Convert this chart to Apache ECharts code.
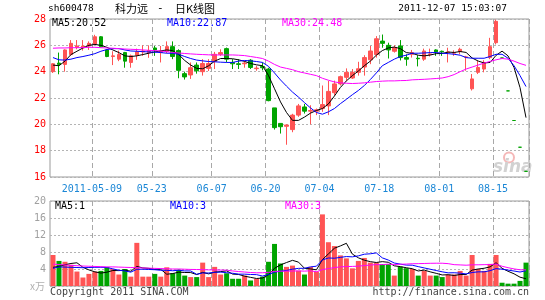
<!DOCTYPE html>
<html>
<head>
<meta charset="utf-8">
<script src="https://cdn.jsdelivr.net/npm/echarts@6/dist/echarts.min.js"></script>
<style>
html,body{margin:0;padding:0;background:#fff;}
#chart{width:545px;height:300px;}
</style>
</head>
<body>
<div id="chart"></div>
<script>
// ---------------- data ----------------
const dates = [
'2011-04-27','2011-04-28','2011-04-29','2011-05-03','2011-05-04','2011-05-05','2011-05-06','2011-05-09','2011-05-10','2011-05-11',
'2011-05-12','2011-05-13','2011-05-16','2011-05-17','2011-05-18','2011-05-19','2011-05-20','2011-05-23','2011-05-24','2011-05-25',
'2011-05-26','2011-05-27','2011-05-30','2011-05-31','2011-06-01','2011-06-02','2011-06-03','2011-06-07','2011-06-08','2011-06-09',
'2011-06-10','2011-06-13','2011-06-14','2011-06-15','2011-06-16','2011-06-17','2011-06-20','2011-06-21','2011-06-22','2011-06-23',
'2011-06-24','2011-06-27','2011-06-28','2011-06-29','2011-06-30','2011-07-04','2011-07-05','2011-07-06','2011-07-07','2011-07-08',
'2011-07-11','2011-07-12','2011-07-13','2011-07-14','2011-07-15','2011-07-18','2011-07-19','2011-07-20','2011-07-21','2011-07-22',
'2011-07-25','2011-07-26','2011-07-27','2011-07-28','2011-07-29','2011-08-01','2011-08-02','2011-08-03','2011-08-04','2011-08-05',
'2011-08-08','2011-08-09','2011-08-10','2011-08-11','2011-08-15','2011-08-16','2011-08-17','2011-08-18','2011-08-19','2011-08-22'];

const opens = [
24.0,24.65,24.55,25.3,25.85,25.8,25.95,26.1,26.65,25.65,
25.15,24.95,25.45,24.7,25.25,25.5,25.45,25.8,25.45,25.55,
25.9,25.6,23.85,23.75,24.5,24.0,24.25,24.77,25.32,25.75,
24.7,24.6,24.6,24.87,24.23,24.4,24.2,21.25,20.07,19.85,
19.6,20.7,21.32,21.0,21.0,21.2,21.4,22.4,23.07,23.57,
23.52,23.95,24.35,24.9,25.3,26.32,26.0,25.55,25.95,25.07,
25.32,25.02,24.95,25.3,25.65,25.55,25.45,25.4,25.52,25.1,
22.7,23.95,24.2,25.07,26.2,25.04,22.54,20.29,18.26,16.43];
const closes = [
24.6,24.55,25.65,26.15,25.95,25.95,26.15,26.65,25.9,25.15,
25.2,25.3,24.8,25.2,25.5,25.57,25.6,25.65,25.57,25.9,
25.15,24.1,23.6,24.3,24.07,24.62,24.62,25.32,25.45,24.95,
24.6,24.55,24.65,24.32,24.27,24.3,21.8,19.75,19.82,19.95,
20.7,21.4,21.0,21.05,21.1,21.5,22.5,23.07,23.62,23.95,
23.95,24.22,25.07,25.57,26.5,26.15,25.65,25.82,25.07,24.95,
25.45,24.98,25.57,25.35,25.5,25.5,25.5,25.45,25.7,25.12,
23.45,24.32,24.7,25.9,27.82,25.04,22.54,20.29,18.26,16.43];
const lows = [
23.9,23.8,24.0,25.2,25.7,25.6,25.65,26.05,25.85,25.1,
24.5,24.8,24.3,24.3,24.9,25.2,25.05,25.2,24.7,25.4,
24.95,23.5,23.4,23.45,23.85,23.7,24.05,24.2,25.2,24.7,
24.2,24.2,24.3,24.2,24.07,24.1,21.75,19.6,19.3,18.45,
19.4,20.57,20.82,20.0,20.7,20.95,20.7,22.2,22.95,23.3,
23.45,23.7,23.7,24.57,25.07,25.82,25.0,25.45,24.85,24.45,
25.07,24.4,24.82,25.15,25.2,25.2,24.7,25.2,25.32,24.07,
22.57,23.82,23.95,24.95,26.07,25.04,22.54,20.29,18.26,16.43];
const highs = [
24.65,25.45,25.7,26.4,26.4,26.4,26.3,26.8,26.7,25.7,
25.55,25.6,25.5,25.3,25.75,26.0,26.0,25.95,25.95,26.3,
26.3,25.7,24.0,24.7,24.7,24.95,24.95,25.5,25.7,25.83,
24.95,24.95,24.8,24.95,24.45,24.7,24.3,21.25,20.07,20.0,
20.8,21.55,21.55,21.45,21.2,22.95,23.3,23.32,23.7,24.25,
24.2,24.75,25.25,25.95,26.7,26.82,26.2,26.0,26.4,25.32,
25.65,25.25,25.75,25.75,25.7,25.6,25.82,25.62,25.82,25.2,
23.82,24.82,24.87,26.57,27.95,25.04,22.54,20.29,18.26,16.43];

const ma5 = [
24.5,24.45,24.8,25.3,25.55,25.8,26.0,26.07,26.0,25.85,
25.65,25.45,25.2,25.15,25.2,25.3,25.4,25.5,25.58,25.65,
25.6,25.3,24.85,24.5,24.25,24.22,24.45,24.8,25.0,25.0,
24.98,24.9,24.78,24.62,24.52,24.45,23.7,22.7,21.7,20.9,
20.3,20.3,20.55,20.85,21.05,21.2,21.55,22.15,22.8,23.3,
23.7,24.05,24.45,24.8,25.25,25.6,25.8,25.87,25.75,25.45,
25.39,25.25,25.2,25.26,25.37,25.38,25.49,25.46,25.53,25.46,
25.04,24.81,24.66,24.7,25.24,25.56,25.2,24.32,22.79,20.51];
const ma10 = [
25.07,24.9,24.88,24.95,25.07,25.15,25.25,25.37,25.55,25.68,
25.75,25.75,25.65,25.57,25.55,25.52,25.5,25.48,25.45,25.4,
25.4,25.32,25.15,25.0,24.88,24.82,24.77,24.75,24.72,24.7,
24.7,24.8,24.85,24.82,24.77,24.7,24.4,23.9,23.37,22.9,
22.45,22.07,21.65,21.25,20.9,20.77,20.95,21.2,21.57,21.9,
22.25,22.57,22.95,23.4,23.9,24.45,24.7,24.95,25.15,25.25,
25.4,25.4,25.42,25.45,25.45,25.4,25.37,25.32,25.25,25.07,
25.02,25.02,25.02,25.15,25.32,25.32,25.02,24.45,23.7,22.87];
const ma30 = [
25.78,25.8,25.8,25.82,25.82,25.83,25.85,25.85,25.82,25.8,
25.78,25.75,25.72,25.7,25.68,25.65,25.62,25.6,25.57,25.52,
25.45,25.42,25.38,25.35,25.32,25.3,25.28,25.27,25.27,25.27,
25.27,25.25,25.22,25.15,25.08,25.0,24.8,24.55,24.35,24.25,
24.15,24.0,23.9,23.8,23.7,23.5,23.35,23.22,23.15,23.12,
23.1,23.12,23.15,23.2,23.25,23.28,23.3,23.3,23.32,23.33,
23.38,23.4,23.42,23.45,23.48,23.52,23.62,23.78,24.0,24.2,
24.35,24.5,24.65,24.78,24.9,25.0,24.95,24.8,24.62,24.48];

const volumes = [
7.3,5.9,5.7,5.0,3.4,2.0,2.85,3.4,3.55,4.45,
4.0,2.7,4.0,2.2,10.15,2.2,2.2,2.85,2.2,4.4,
3.0,3.85,2.45,2.1,2.1,5.5,2.1,4.5,2.7,3.0,
1.7,1.7,2.45,1.3,1.7,2.2,5.7,9.9,5.3,4.5,
4.8,3.6,2.7,4.5,3.4,16.85,10.3,9.4,7.2,6.5,
4.15,5.9,6.6,5.5,5.5,5.15,5.15,2.45,4.55,4.2,
4.0,2.45,3.55,2.45,2.45,2.1,2.7,2.7,3.55,2.45,
7.3,4.0,3.55,5.2,7.3,0.77,0.55,0.55,1.2,5.5];
const vma5 = [
4.4,4.6,5.0,5.3,5.46,4.4,3.79,3.33,3.04,3.25,
3.65,3.62,3.74,3.47,4.61,4.25,4.15,3.92,3.92,2.77,
2.93,3.26,3.18,3.16,2.7,3.2,2.85,3.26,3.38,3.56,
2.8,2.72,2.31,2.03,1.77,1.87,2.67,4.16,4.96,5.52,
6.04,5.62,4.18,4.02,3.8,6.21,7.55,8.89,9.43,10.05,
7.51,6.63,6.07,5.73,5.53,5.73,5.58,4.75,4.56,4.3,
4.07,3.53,3.75,3.33,2.98,2.6,2.65,2.48,2.7,2.7,
3.74,4.0,4.17,4.5,5.47,4.16,3.47,2.87,2.07,1.71];
const vma10 = [
4.15,4.5,4.45,4.4,4.35,4.3,4.35,4.4,4.4,4.36,
4.03,3.71,3.54,3.26,3.93,3.95,3.89,3.83,3.7,3.69,
3.59,3.71,3.55,3.54,2.74,3.07,3.06,3.22,3.27,3.13,
3.0,2.79,2.79,2.71,2.67,2.34,2.7,3.24,3.5,3.65,
3.96,4.15,4.17,4.49,4.66,6.13,6.59,6.54,6.73,6.93,
6.86,7.09,7.48,7.58,7.79,6.62,6.11,5.41,5.15,4.92,
4.9,4.56,4.25,3.95,3.64,3.34,3.09,3.12,3.02,2.84,
3.17,3.33,3.33,3.6,4.09,3.95,3.74,3.52,3.29,3.59];
const vma30 = [
5.15,5.05,4.95,4.85,4.77,4.7,4.65,4.6,4.55,4.5,
4.5,4.45,4.4,4.35,4.3,4.25,4.2,4.15,4.1,4.05,
4.0,4.0,3.95,3.9,3.88,3.85,3.8,3.78,3.75,3.73,
3.54,3.4,3.29,3.17,3.11,3.12,3.21,3.43,3.49,3.49,
3.52,3.55,3.5,3.58,3.35,3.84,4.11,4.33,4.5,4.57,
4.61,4.67,4.81,4.93,5.04,5.03,5.13,5.06,5.12,5.16,
5.24,5.26,5.3,5.34,5.36,5.36,5.26,5.02,4.96,4.89,
4.98,4.99,5.02,5.04,5.17,4.64,4.31,4.02,3.82,3.78];

const tickDates  = ['2011-05-09','2011-05-23','2011-06-07','2011-06-20','2011-07-04','2011-07-18','2011-08-01','2011-08-15'];
const tickLabels = ['2011-05-09','05-23','06-07','06-20','07-04','07-18','08-01','08-15'];
const priceTicks = [16,18,20,22,24,26,28];
const volumeTicks = [0,4,8,12,16,20];

const stockCode = 'sh600478';
const titleName = '科力远';
const titleKind = '日K线图';
const stamp = '2011-12-07 15:03:07';
const priceLegend = [['MA5', '20.52'], ['MA10', '22.87'], ['MA30', '24.48']];
const volumeLegend = [['MA5', '1'], ['MA10', '3'], ['MA30', '3']];
const volumeUnit = 'x万';
const copyright = 'Copyright 2011 SINA.COM';
const site = 'http://finance.sina.com.cn';

// ---------------- chart ----------------
const RED = '#ff5454', GREEN = '#00a400';
const MONO = '"DejaVu Sans Mono", "Liberation Mono", monospace';
const lineColors = ['#000000', '#0000ff', '#ff00ff'];

function isUp(i) {
  if (closes[i] > opens[i]) return true;
  if (closes[i] < opens[i]) return false;
  return i > 0 ? closes[i] >= closes[i - 1] : true;
}
const kData = dates.map((d, i) => [opens[i], closes[i], lows[i], highs[i]]);
const volData = volumes.map((v, i) => ({ value: v, itemStyle: { color: isUp(i) ? RED : GREEN } }));

const showTick = (idx, val) => tickDates.indexOf(val) >= 0;
const fmtTick = (val) => { const k = tickDates.indexOf(val); return k >= 0 ? tickLabels[k] : ''; };

const gridLeft = 50, gridWidth = 479;
const xSplit = { show: true, interval: showTick, lineStyle: { color: '#a8a8a8', type: [5, 3], width: 1 } };
const ySplit = { show: true, lineStyle: { color: '#b4b4b4', type: [2, 2], width: 1 } };

function legendTexts(items, left, top) {
  const xs = [0, 115, 230];
  return items.map((it, k) => ({
    type: 'text', left: left + xs[k], top: top,
    style: { text: it[0] + ':' + it[1], font: '10px ' + MONO, fill: lineColors[k] },
    z: 100
  }));
}

const chart = echarts.init(document.getElementById('chart'), null, { renderer: 'canvas' });
const option = {
  animation: false,
  backgroundColor: '#ffffff',
  grid: [
    { left: gridLeft, top: 19, width: gridWidth, height: 158, show: true, borderColor: '#9a9a9a', borderWidth: 1, backgroundColor: 'transparent' },
    { left: gridLeft, top: 201, width: gridWidth, height: 85, show: true, borderColor: '#9a9a9a', borderWidth: 1, backgroundColor: 'transparent' }
  ],
  xAxis: [
    { type: 'category', gridIndex: 0, data: dates, boundaryGap: true,
      axisLine: { show: false }, axisTick: { show: false },
      axisLabel: { interval: showTick, formatter: fmtTick, color: '#1b87d6', fontFamily: MONO, fontSize: 10, margin: 7, padding: [0, 6, 0, 0] },
      splitLine: xSplit },
    { type: 'category', gridIndex: 1, data: dates, boundaryGap: true,
      axisLine: { show: false }, axisTick: { show: false }, axisLabel: { show: false },
      splitLine: xSplit }
  ],
  yAxis: [
    { type: 'value', gridIndex: 0, min: priceTicks[0], max: priceTicks[priceTicks.length - 1], interval: 2,
      axisLine: { show: false }, axisTick: { show: false },
      axisLabel: { color: '#ff0000', fontFamily: MONO, fontSize: 10, margin: 4 },
      splitLine: ySplit },
    { type: 'value', gridIndex: 1, min: volumeTicks[0], max: volumeTicks[volumeTicks.length - 1], interval: 4,
      axisLine: { show: false }, axisTick: { show: false },
      axisLabel: { color: '#a0a0a0', fontFamily: MONO, fontSize: 10, margin: 4, formatter: v => v === 0 ? '' : String(v) },
      splitLine: ySplit }
  ],
  series: [
    { type: 'candlestick', xAxisIndex: 0, yAxisIndex: 0, data: kData, barWidth: 4,
      itemStyle: { color: RED, color0: GREEN, borderColor: RED, borderColor0: GREEN, borderColorDoji: GREEN, borderWidth: 1 },
      z: 3 },
    { type: 'line', xAxisIndex: 0, yAxisIndex: 0, data: ma5, showSymbol: false, symbol: 'none', lineStyle: { color: lineColors[0], width: 1 }, z: 4 },
    { type: 'line', xAxisIndex: 0, yAxisIndex: 0, data: ma10, showSymbol: false, symbol: 'none', lineStyle: { color: lineColors[1], width: 1 }, z: 4 },
    { type: 'line', xAxisIndex: 0, yAxisIndex: 0, data: ma30, showSymbol: false, symbol: 'none', lineStyle: { color: lineColors[2], width: 1 }, z: 4 },
    { type: 'bar', xAxisIndex: 1, yAxisIndex: 1, data: volData, barWidth: 5, z: 3 },
    { type: 'line', xAxisIndex: 1, yAxisIndex: 1, data: vma5, showSymbol: false, symbol: 'none', lineStyle: { color: lineColors[0], width: 1 }, z: 4 },
    { type: 'line', xAxisIndex: 1, yAxisIndex: 1, data: vma10, showSymbol: false, symbol: 'none', lineStyle: { color: lineColors[1], width: 1 }, z: 4 },
    { type: 'line', xAxisIndex: 1, yAxisIndex: 1, data: vma30, showSymbol: false, symbol: 'none', lineStyle: { color: lineColors[2], width: 1 }, z: 4 }
  ],
  graphic: [
    { type: 'text', left: 48, top: 4, style: { text: stockCode, font: '9.5px ' + MONO, fill: '#000' } },
    { type: 'text', left: 115, top: 3, style: { text: titleName, font: '11px "Noto Sans CJK SC"', fill: '#000' } },
    { type: 'text', left: 157, top: 3, style: { text: '-', font: '11px ' + MONO, fill: '#000' } },
    { type: 'text', left: 175, top: 3, style: { text: titleKind, font: '11px "Noto Sans CJK SC"', fill: '#000' } },
    { type: 'text', right: 38, top: 4, style: { text: stamp, font: '9.5px ' + MONO, fill: '#000' } },
    ...legendTexts(priceLegend, 52, 18),
    ...legendTexts(volumeLegend, 55, 201),
    { type: 'text', left: 30, top: 281, style: { text: volumeUnit, font: '10px "Noto Sans CJK SC"', fill: '#b0b0b0' } },
    { type: 'text', left: 50, top: 287, style: { text: copyright, font: '10px ' + MONO, fill: '#444' } },
    { type: 'text', right: 16, top: 287, style: { text: site, font: '10px ' + MONO, fill: '#444' } },
    { type: 'group', left: 493, top: 150, z: 1, children: [
        { type: 'circle', shape: { cx: 16, cy: 6, r: 5 }, style: { fill: 'none', stroke: '#f5b8b8', lineWidth: 2 } },
        { type: 'text', x: 0, y: 8, style: { text: 'sina', font: 'italic bold 17px "DejaVu Sans"', fill: '#d2d2d2' } }
    ] }
  ]
};
chart.setOption(option);
</script>
</body>
</html>
